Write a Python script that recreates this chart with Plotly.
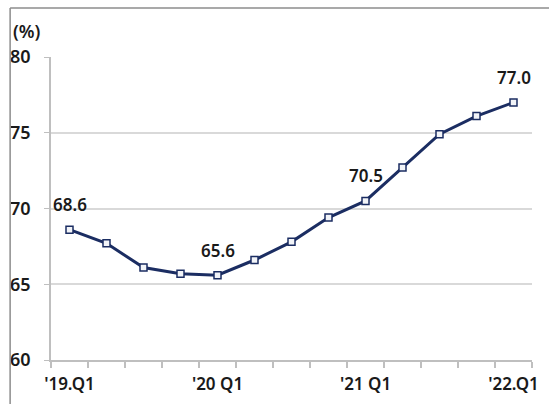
import plotly.graph_objects as go

# Quarterly rate (%), 2019 Q1 – 2022 Q1
quarters = ["'19.Q1", "'19.Q2", "'19.Q3", "'19.Q4",
            "'20 Q1", "'20.Q2", "'20.Q3", "'20.Q4",
            "'21 Q1", "'21.Q2", "'21.Q3", "'21.Q4",
            "'22.Q1"]
rates = [68.6, 67.7, 66.1, 65.7, 65.6, 66.6, 67.8, 69.4, 70.5, 72.7, 74.9, 76.1, 77.0]

# Quarters whose value is written above the marker
labelled = ["'19.Q1", "'20 Q1", "'21 Q1", "'22.Q1"]
# Quarters named on the x axis
axis_labels = ["'19.Q1", "'20 Q1", "'21 Q1", "'22.Q1"]
y_ticks = [60, 65, 70, 75, 80]

NAVY = "#1b2d62"
FONT = "Noto Sans"

# quarters are placed at integer positions; tick marks sit between them
pos = list(range(len(quarters)))
label_pos = [quarters.index(q) for q in axis_labels]
boundaries = [p - 0.5 for p in pos] + [pos[-1] + 0.5]

fig = go.Figure()
fig.add_trace(go.Scatter(
    x=pos, y=rates, customdata=quarters,
    mode="lines+markers",
    line=dict(color=NAVY, width=3),
    marker=dict(symbol="square", size=7, color="#f2f4f8",
                line=dict(color=NAVY, width=1.5)),
    hovertemplate="%{customdata}: %{y}<extra></extra>",
    showlegend=False,
))

for p, q, v in zip(pos, quarters, rates):
    if q in labelled:
        fig.add_annotation(
            x=p, y=v, text=f"{v:.1f}", showarrow=False,
            yshift=25, xanchor="center", yanchor="middle",
            font=dict(family=FONT, size=17, color="#1a1a1a", weight=600),
        )

# unit label
fig.add_annotation(
    xref="paper", yref="paper", x=-0.083, y=1.086,
    text="(%)", showarrow=False, xanchor="left", yanchor="middle",
    font=dict(family=FONT, size=18, color="#1a1a1a", weight=600),
)

# outer frame (top and left edges)
frame = dict(color="#8c8c8c", width=1.5)
fig.add_shape(type="line", xref="paper", yref="paper",
              x0=-0.085, x1=1.04, y0=1.162, y1=1.162, line=frame)
fig.add_shape(type="line", xref="paper", yref="paper",
              x0=-0.085, x1=-0.085, y0=1.162, y1=-0.16, line=frame)

fig.update_layout(
    width=549, height=404,
    margin=dict(l=51, r=17, t=57, b=44),
    paper_bgcolor="white", plot_bgcolor="white",
    font=dict(family=FONT, color="#1a1a1a"),
    xaxis=dict(
        automargin=False,
        range=[-0.5, len(quarters) - 0.5],
        tickmode="array", tickvals=label_pos, ticktext=axis_labels,
        tickangle=0, ticks="outside", ticklen=6,
        tickcolor="rgba(0,0,0,0)", ticklabelstandoff=2,
        minor=dict(tickmode="array", tickvals=boundaries,
                   ticks="outside", ticklen=6, tickcolor="#bfbfbf",
                   tickwidth=1.5, showgrid=False),
        showline=True, linecolor="#bfbfbf", linewidth=1.5,
        showgrid=False, zeroline=False,
        tickfont=dict(family=FONT, size=17, color="#1a1a1a", weight=600),
    ),
    yaxis=dict(
        automargin=False,
        range=[60, 80], tickmode="array", tickvals=y_ticks,
        ticks="outside", ticklen=5, tickcolor="#bfbfbf",
        ticklabelstandoff=10,
        showline=True, linecolor="#bfbfbf", linewidth=1.5,
        showgrid=True, gridcolor="#d9d9d9", gridwidth=1.5,
        zeroline=False,
        tickfont=dict(family=FONT, size=18, color="#1a1a1a", weight=600),
    ),
)

fig.write_html("out.html")
